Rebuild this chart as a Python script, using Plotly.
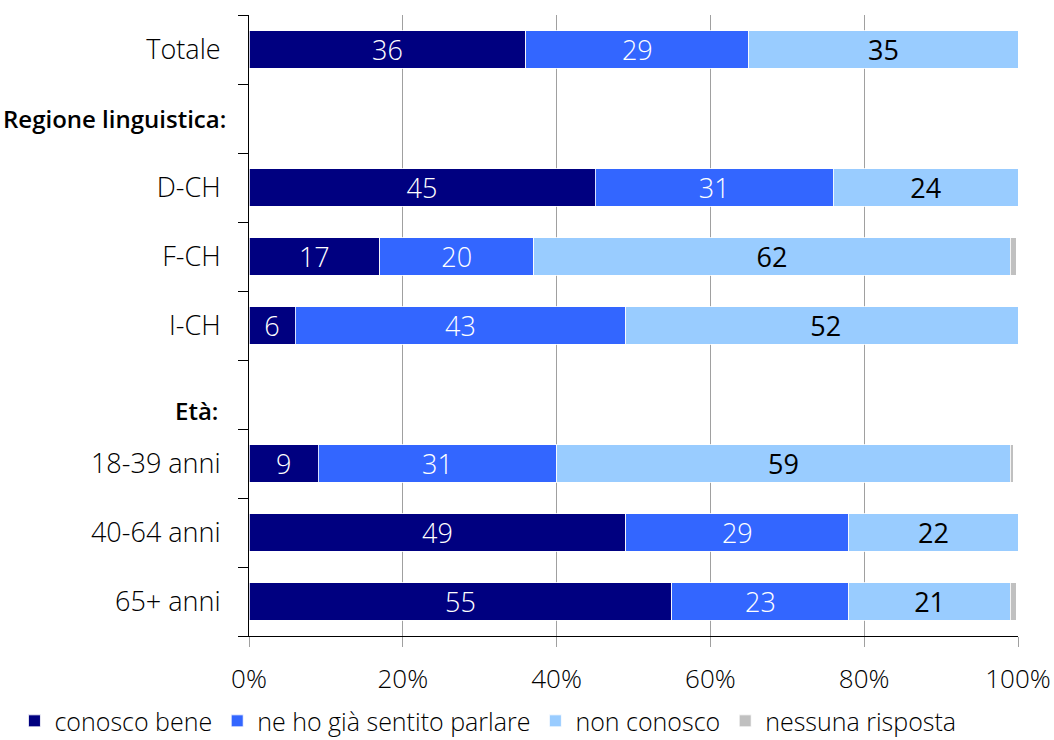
import plotly.graph_objects as go

# Rows of the chart, top to bottom (header rows carry no bars)
categories = ["Totale", "hdr_regione", "D-CH", "F-CH", "I-CH", "hdr_eta",
              "18-39 anni", "40-64 anni", "65+ anni"]
tick_labels = ["Totale", "", "D-CH", "F-CH", "I-CH", "",
               "18-39 anni", "40-64 anni", "65+ anni"]

conosco_bene = [36, None, 45, 17, 6, None, 9, 49, 55]
sentito_parlare = [29, None, 31, 20, 43, None, 31, 29, 23]
non_conosco = [35, None, 24, 62, 52, None, 59, 22, 21]
nessuna_risposta = [0, None, 0.3, 0.8, 0, None, 0.4, 0.3, 0.8]

series = [
    ("conosco bene", conosco_bene, "#000080", "white", True),
    ("ne ho già sentito parlare", sentito_parlare, "#3366FF", "white", True),
    ("non conosco", non_conosco, "#99CCFF", "black", True),
    ("nessuna risposta", nessuna_risposta, "#C0C0C0", "black", False),
]

FONT = "Open Sans"

fig = go.Figure()
for name, vals, color, txtcol, labelled in series:
    fig.add_trace(go.Bar(
        y=categories, x=vals, name=name, orientation="h",
        marker=dict(color=color, line=dict(color="white", width=0.8)),
        text=[(f"{v:g}" if (labelled and v) else "") for v in vals],
        textposition="inside", insidetextanchor="middle", textangle=0,
        textfont=dict(color=txtcol, size=27, family=FONT, weight=300 if txtcol == "white" else 400),
        constraintext="none", cliponaxis=True,
        hoverinfo="skip",
    ))

# Bold section headers on the category axis
fig.add_annotation(text="Regione linguistica:", x=0, xref="paper", xanchor="right",
                   xshift=-21, y="hdr_regione", yref="y", yanchor="middle", showarrow=False,
                   font=dict(size=24, family=FONT, color="black", weight=600))
fig.add_annotation(text="Età:", x=0, xref="paper", xanchor="right",
                   xshift=-29, y="hdr_eta", yref="y", yanchor="middle", yshift=-16,
                   showarrow=False, font=dict(size=24, family=FONT, color="black", weight=600))

fig.update_layout(
    barmode="stack", bargap=0.45,
    width=1054, height=740,
    margin=dict(l=249, r=36, t=15, b=104, autoexpand=False),
    plot_bgcolor="white", paper_bgcolor="white",
    font=dict(family=FONT, size=26, color="black"),
    uniformtext=dict(mode="show", minsize=10),
    legend=dict(orientation="h", x=-0.305, xanchor="left", xref="paper",
                y=-0.1, yanchor="top", yref="paper",
                bgcolor="rgba(0,0,0,0)",
                font=dict(size=25, family=FONT, weight=300), traceorder="normal",
                itemwidth=30, tracegroupgap=0),
    xaxis=dict(range=[0, 100], tickvals=[0, 20, 40, 60, 80, 100],
               ticktext=["0%", "20%", "40%", "60%", "80%", "100%"],
               showgrid=True, gridcolor="#A0A0A0", gridwidth=1,
               showline=True, linecolor="black", linewidth=1,
               ticks="outside", ticklen=10, tickcolor="#A0A0A0",
               tickfont=dict(size=26, weight=300), zeroline=False, fixedrange=True,
               automargin=False, ticklabelstandoff=10),
    yaxis=dict(categoryorder="array", categoryarray=categories,
               tickvals=categories, ticktext=tick_labels,
               autorange="reversed", tickson="boundaries",
               ticks="outside", ticklen=10, tickcolor="black",
               showline=True, linecolor="black", linewidth=1,
               showgrid=False, tickfont=dict(size=27, weight=300),
               ticklabelstandoff=22, automargin=False),
)

fig.write_html("out.html")
